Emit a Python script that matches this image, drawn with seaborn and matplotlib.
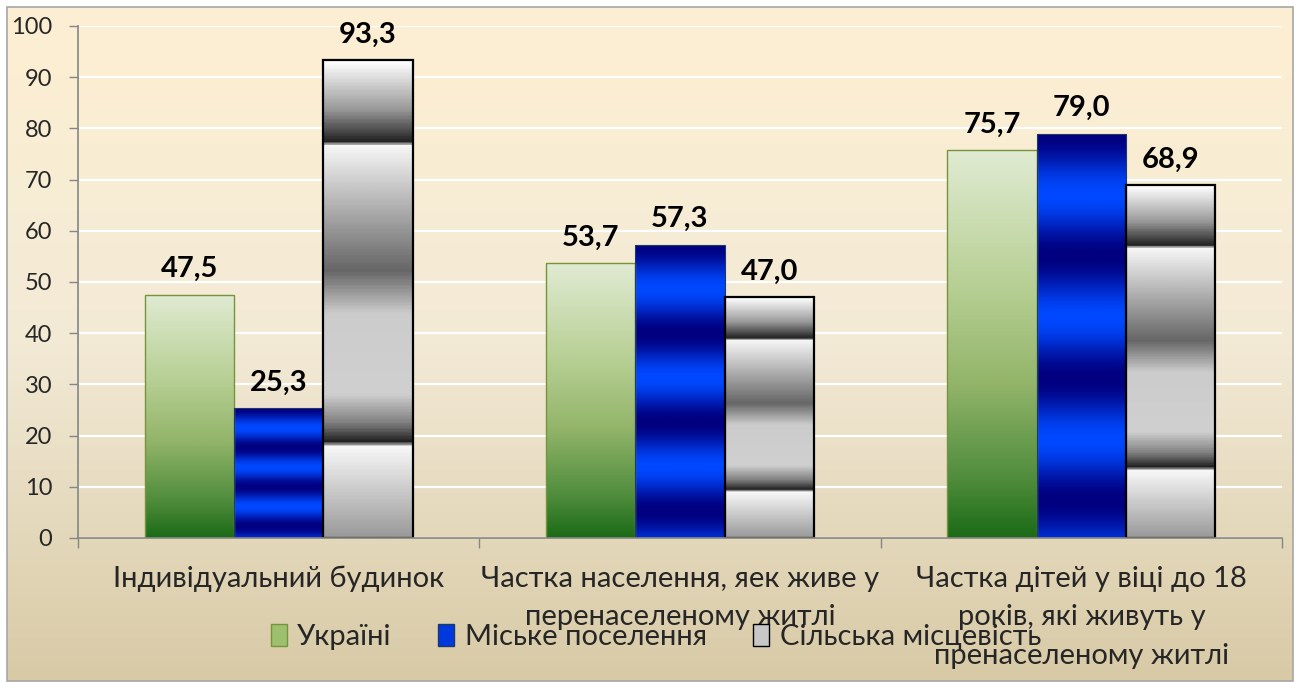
import numpy as np
import pandas as pd
import seaborn as sns
import matplotlib.pyplot as plt
from matplotlib.colors import LinearSegmentedColormap
from matplotlib.patches import Rectangle, Patch

categories = ['Індивідуальний будинок',
              'Частка населення, яек живе у\nперенаселеному житлі',
              'Частка дітей у віці до 18\nроків, які живуть у\nпренаселеному житлі']
series = ['Україні', 'Міське поселення', 'Сільська місцевість']
ukraine = [47.5, 53.7, 75.7]
urban = [25.3, 57.3, 79.0]
rural = [93.3, 47.0, 68.9]
y_ticks = [0, 10, 20, 30, 40, 50, 60, 70, 80, 90, 100]

sns.set_theme(style='white')
plt.rcParams['font.family'] = ['Lato', 'Noto Sans', 'DejaVu Sans']

df = pd.DataFrame({
    'cat': categories * 3,
    'series': [s for s in series for _ in categories],
    'value': ukraine + urban + rural,
})

fig = plt.figure(figsize=(13.01, 6.82), dpi=100)

# background: cream-to-tan gradient inside a grey frame
bg = fig.add_axes([0, 0, 1, 1], zorder=-5)
bg.set_xlim(0, 1301)
bg.set_ylim(682, 0)
bg.axis('off')
bg_cmap = LinearSegmentedColormap.from_list('bg', ['#fdefd2', '#f3ead6', '#d8caa6'])
bg.imshow(np.linspace(0, 1, 256).reshape(-1, 1), cmap=bg_cmap, aspect='auto',
          extent=[7, 1293, 681, 7], zorder=0)
bg.add_patch(Rectangle((7, 7), 1286, 674, fill=False, edgecolor='#a6a6a6', lw=1.2, zorder=1))

ax = fig.add_axes([78 / 1301, 1 - 538 / 682, (1282 - 78) / 1301, (538 - 26) / 682])
ax.patch.set_alpha(0)

sns.barplot(data=df, x='cat', y='value', hue='series', width=0.667,
            legend=False, ax=ax, saturation=1)

green = LinearSegmentedColormap.from_list('g', [(0, '#e0ebd2'), (0.35, '#b7cf94'),
                                                (0.6, '#93b56a'), (0.85, '#4f8c3c'),
                                                (1, '#1b6b16')])
blue = LinearSegmentedColormap.from_list('b', ['#000080', '#0048ff'])
chrome = LinearSegmentedColormap.from_list('c', [
    (0.0, '#ffffff'), (0.10, '#9a9a9a'), (0.155, '#3a3a3a'), (0.17, '#1e1e1e'),
    (0.175, '#f8f8f8'), (0.30, '#b4b4b4'), (0.44, '#666666'), (0.53, '#cccccc'),
    (0.70, '#d0d0d0'), (0.76, '#808080'), (0.80, '#222222'), (0.81, '#f8f8f8'),
    (1.0, '#9a9a9a')])

t = np.linspace(0, 1, 400).reshape(-1, 1)
fills = [
    (green(t[:, 0]), '#77933c', 1.0),
    (blue(0.5 - 0.5 * np.cos(2 * np.pi * 3.3 * t[:, 0])), '#1f3864', 0.8),
    (chrome(t[:, 0]), '#000000', 1.6),
]

for cont, (cols, edge, lw) in zip(ax.containers, fills):
    img = cols.reshape(-1, 1, 4)
    for bar in cont:
        x0, w, h = bar.get_x(), bar.get_width(), bar.get_height()
        im = ax.imshow(img, aspect='auto', extent=[x0, x0 + w, 0, h],
                       origin='upper', zorder=2, interpolation='bilinear')
        im.set_clip_path(bar)
        bar.set_facecolor('none')
        bar.set_edgecolor(edge)
        bar.set_linewidth(lw)
        bar.set_zorder(3)
        ax.annotate(f'{h:.1f}'.replace('.', ','), (x0 + w / 2, h),
                    xytext=(0, 9), textcoords='offset points',
                    ha='center', va='bottom', fontsize=21, fontweight='bold',
                    color='black', zorder=4)

ax.set_xlim(-0.5, 2.5)
ax.set_ylim(0, 100)
ax.set_yticks(y_ticks)
ax.yaxis.grid(True, color='white', lw=1.6, zorder=0)
ax.set_axisbelow(True)
ax.set_xlabel('')
ax.set_ylabel('')

for s in ['top', 'right']:
    ax.spines[s].set_visible(False)
for s in ['left', 'bottom']:
    ax.spines[s].set_color('#868686')
    ax.spines[s].set_linewidth(1.2)
    ax.spines[s].set_zorder(5)

ax.tick_params(axis='y', which='major', direction='out', length=6.5, width=1,
               color='#868686', labelsize=17, pad=12, left=True)
ax.set_xticks([0, 1, 2])
ax.set_xticklabels(categories, fontsize=21, linespacing=1.6, va='top')
ax.set_xticks([-0.5, 0.5, 1.5, 2.5], minor=True)
ax.tick_params(axis='x', which='major', length=0, pad=20)
ax.tick_params(axis='x', which='minor', direction='out', length=7.5, width=1,
               color='#868686', bottom=True)

handles = [
    Patch(facecolor='#9cc06e', edgecolor='#77933c'),
    Patch(facecolor='#0038e0', edgecolor='#1f3864'),
    Patch(facecolor='#c8c8c8', edgecolor='#000000'),
]
fig.legend(handles, series, loc='center', bbox_to_anchor=(656 / 1301, 1 - 637 / 682),
           ncol=3, frameon=False, fontsize=21, handlelength=0.55, handleheight=0.75,
           handletextpad=0.35, columnspacing=1.6)

fig.savefig('out.png', dpi=100)
